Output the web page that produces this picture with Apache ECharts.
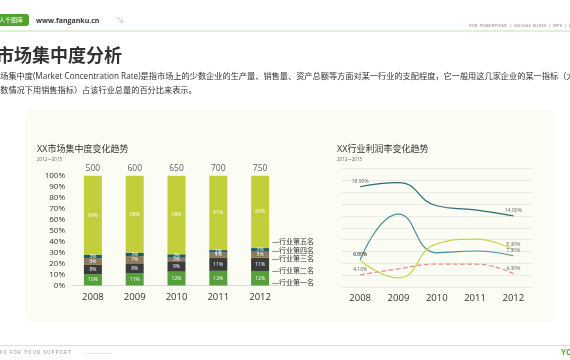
<!DOCTYPE html>
<html><head><meta charset="utf-8">
<script src="https://cdn.jsdelivr.net/npm/echarts@6/dist/echarts.min.js"></script>
<style>html,body{margin:0;padding:0;background:#fff}#c{width:570px;height:360px}</style>
</head><body><div id="c"></div>
<script>
// ---- data ----
const years = ['2008', '2009', '2010', '2011', '2012'];
const totals = [500, 600, 650, 700, 750];
const rank1 = [10, 11, 12, 12, 12];
const rank2 = [8, 8, 9, 11, 11];
const rank3 = [6, 7, 3, 4, 5];
const rank4 = [3, 3, 3, 2, 3];
const rank5 = [69, 68, 68, 61, 60];
const rankNames = ['行业第一名', '行业第二名', '行业第三名', '行业第四名', '行业第五名'];
const profitA = [18.9, 19.6, 15.7, 15.0, 14.0];
const profitB = [6.6, 14.3, 7.8, 8.1, 7.3];
const profitC = [6.5, 3.6, 9.3, 10.1, 8.3];
const profitD = [4.1, 5.1, 5.9, 5.9, 4.3];

const FF = '"Open Sans","Noto Sans CJK SC",sans-serif';
const ranks = [rank1, rank2, rank3, rank4, rank5];
const rankColors = ['#56a03c', '#3b3b3b', '#8b7a56', '#1f5b66', '#c3ce3b'];
const sums = years.map((_, i) => ranks.reduce((s, r) => s + r[i], 0));

const barSeries = ranks.map((r, k) => ({
  name: rankNames[k], type: 'bar', stack: 'share', xAxisIndex: 0, yAxisIndex: 0,
  barWidth: 18,
  itemStyle: { color: rankColors[k] },
  data: r.map((v, i) => ({ value: v / sums[i] * 100, raw: v })),
  label: { show: true, position: 'inside', color: '#fff', fontSize: 5, fontFamily: FF,
    formatter: p => p.data.raw + '%' },
  emphasis: { disabled: true }
}));

const lineColors = ['#2b6b73', '#4a8f9b', '#c9d54b', '#e58b8b'];
const profits = [profitA, profitB, profitC, profitD];
const lineSeries = profits.map((d, k) => ({
  type: 'line', xAxisIndex: 1, yAxisIndex: 1, smooth: true,
  symbol: 'circle', symbolSize: 0, showSymbol: true,
  lineStyle: { color: lineColors[k], width: 1.2, type: k === 3 ? 'dashed' : 'solid' },
  itemStyle: { color: lineColors[k] },
  data: d,
  label: { show: true, position: 'top', distance: 3, fontSize: 5, color: '#666', fontFamily: FF,
    formatter: p => (p.dataIndex === 0 || p.dataIndex === d.length - 1) ? p.value.toFixed(2) + '%' : '' },
  emphasis: { disabled: true }
}));

const legendY = [283, 271, 258.5, 251, 241.5];

const chart = echarts.init(document.getElementById('c'), null, { renderer: 'canvas' });
chart.setOption({
  animation: false,
  backgroundColor: '#ffffff',
  textStyle: { fontFamily: FF },
  grid: [
    { left: 72, top: 175.7, width: 209, bottom: 74.5 },
    { left: 341, top: 168.3, width: 191.5, bottom: 72.7 }
  ],
  xAxis: [
    { type: 'category', gridIndex: 0, data: years,
      axisLine: { lineStyle: { color: '#d9d9d9' } }, axisTick: { show: false },
      axisLabel: { color: '#333', fontSize: 9.5, margin: 7, fontFamily: FF } },
    { type: 'category', gridIndex: 1, data: years,
      axisLine: { show: false }, axisTick: { show: false },
      axisLabel: { color: '#333', fontSize: 9.5, margin: 6, fontFamily: FF } }
  ],
  yAxis: [
    { type: 'value', gridIndex: 0, min: 0, max: 100, interval: 10,
      axisLine: { show: false }, axisTick: { show: false }, splitLine: { show: false },
      axisLabel: { color: '#333', fontSize: 8, margin: 7, formatter: '{value}%', fontFamily: FF } },
    { type: 'value', gridIndex: 1, min: 2, max: 22, interval: 2,
      axisLine: { show: false }, axisTick: { show: false }, axisLabel: { show: false },
      splitLine: { lineStyle: { color: '#ebebe6', width: 1 } } }
  ],
  series: [
    ...barSeries,
    { type: 'scatter', xAxisIndex: 0, yAxisIndex: 0, symbolSize: 0,
      data: totals.map((t, i) => ({ value: 100, total: t })),
      label: { show: true, position: 'top', distance: 3, color: '#333', fontSize: 8.5, fontFamily: FF,
        formatter: p => String(p.data.total) },
      emphasis: { disabled: true } },
    ...lineSeries
  ],
  graphic: [
    // header
    { type: 'rect', shape: { x: -6, y: 14, width: 35, height: 12, r: [0, 3, 3, 0] }, style: { fill: '#4fa22f' } },
    { type: 'text', x: -1, y: 20, style: { text: '人千图库', fill: '#fff', fontSize: 6, verticalAlign: 'middle', fontFamily: FF } },
    { type: 'text', x: 36, y: 21, style: { text: 'www.fanganku.cn', fill: '#333', fontSize: 7, fontWeight: 'bold', verticalAlign: 'middle', fontFamily: FF } },
    { type: 'text', x: 116, y: 21, style: { text: '↘', fill: '#aaa', fontSize: 8, verticalAlign: 'middle', fontFamily: FF } },
    { type: 'text', x: 469, y: 25.5, style: { text: 'FOR  POWERPOINT  |  GOOGLE SLIDES  |  WPS  |  KEYNOTE', fill: '#777', fontSize: 4.3, verticalAlign: 'middle', fontFamily: FF } },
    { type: 'line', shape: { x1: 0, y1: 31, x2: 570, y2: 31 }, style: { stroke: '#c4dfae', lineWidth: 1 } },
    // title & paragraph
    { type: 'text', x: -4, y: 55, style: { text: '市场集中度分析', fill: '#333', fontSize: 18, fontWeight: 'bold', verticalAlign: 'middle', fontFamily: '"Noto Sans CJK SC",sans-serif' } },
    { type: 'text', x: -8, y: 77, style: { text: '市场集中度(Market Concentration Rate)是指市场上的少数企业的生产量、销售量、资产总额等方面对某一行业的支配程度，它一般用这几家企业的某一指标（大', fill: '#333', fontSize: 8.2, verticalAlign: 'middle', fontFamily: FF } },
    { type: 'text', x: -8, y: 91, style: { text: '多数情况下用销售指标）占该行业总量的百分比来表示。', fill: '#333', fontSize: 8.2, verticalAlign: 'middle', fontFamily: FF } },
    // panel
    { type: 'rect', z: -10, shape: { x: 25, y: 110, width: 531, height: 212, r: 8 }, style: { fill: '#fbfcf3' } },
    // chart titles
    { type: 'text', x: 37, y: 149.5, style: { text: 'XX市场集中度变化趋势', fill: '#333', fontSize: 9, verticalAlign: 'middle', fontFamily: FF } },
    { type: 'text', x: 37, y: 160, style: { text: '2012—2015', fill: '#666', fontSize: 4.5, verticalAlign: 'middle', fontFamily: FF } },
    { type: 'text', x: 337, y: 149.5, style: { text: 'XX行业利润率变化趋势', fill: '#333', fontSize: 9, verticalAlign: 'middle', fontFamily: FF } },
    { type: 'text', x: 337, y: 160, style: { text: '2012—2015', fill: '#666', fontSize: 4.5, verticalAlign: 'middle', fontFamily: FF } },
    // bar legend labels
    ...rankNames.map((n, k) => ({ type: 'text', x: 272, y: legendY[k],
      style: { text: '—' + n, fill: '#333', fontSize: 7, verticalAlign: 'middle', fontFamily: FF } })),
    // footer
    { type: 'line', shape: { x1: 0, y1: 345.5, x2: 570, y2: 345.5 }, style: { stroke: '#dedede', lineWidth: 1 } },
    { type: 'text', x: 0, y: 352.5, style: { text: 'K S   F O R   Y O U R   S U P P O R T', fill: '#888', fontSize: 4.5, verticalAlign: 'middle', fontFamily: FF } },
    { type: 'text', x: 85, y: 353, style: { text: '- --- ------- ------ -', fill: '#bbb', fontSize: 4, verticalAlign: 'middle', fontFamily: FF } },
    { type: 'text', x: 561, y: 352.5, style: { text: 'YO', fill: '#5ea836', fontSize: 8, fontWeight: 'bold', verticalAlign: 'middle', fontFamily: FF } }
  ]
});
</script></body></html>
